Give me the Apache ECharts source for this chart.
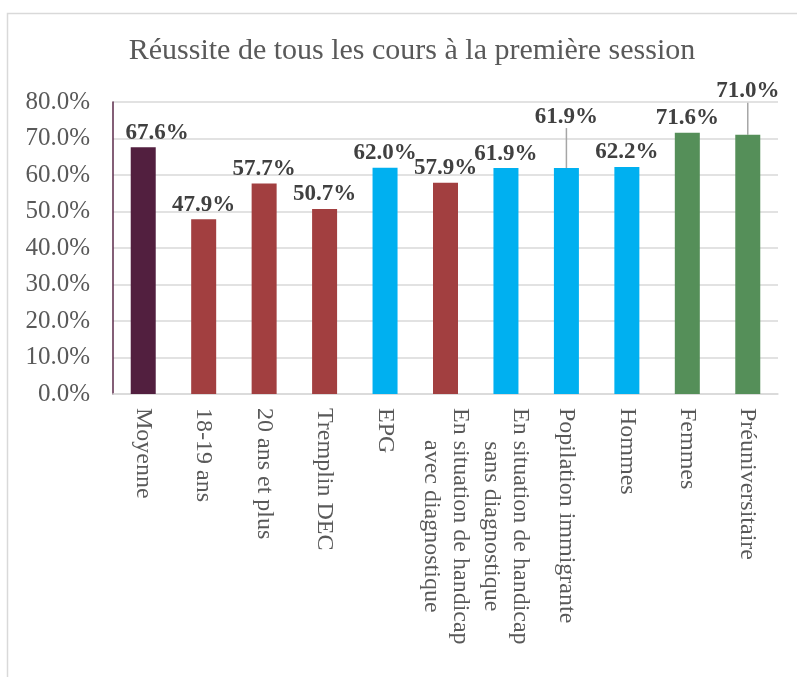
<!DOCTYPE html>
<html>
<head>
<meta charset="utf-8">
<script src="https://cdn.jsdelivr.net/npm/echarts@6/dist/echarts.min.js"></script>
<style>
  html, body { margin: 0; padding: 0; background: #fff; }
  #chart { width: 797px; height: 677px; }
</style>
</head>
<body>
<div id="chart"></div>
<script>
// données du graphique
var categories = [
    'Moyenne',
    '18-19 ans',
    '20 ans et plus',
    'Tremplin DEC',
    'EPG',
    'En situation de handicap\navec diagnostique',
    'En situation de handicap\nsans diagnostique',
    'Popilation immigrante',
    'Hommes',
    'Femmes',
    'Préuniversitaire'
];
var values = [67.6, 47.9, 57.7, 50.7, 62.0, 57.9, 61.9, 61.9, 62.2, 71.6, 71.0];
var groups = ['moy', 'rouge', 'rouge', 'rouge', 'bleu', 'rouge', 'bleu', 'bleu', 'bleu', 'vert', 'vert'];
var yTicks = [0, 10, 20, 30, 40, 50, 60, 70, 80];

var groupColors = {
    moy: '#521F3F',
    rouge: '#A23F40',
    bleu: '#00B0F0',
    vert: '#558F59'
};
// étiquettes déplacées (avec trait de rappel)
var movedLabels = { 0: { dx: 14, dy: 0 }, 7: { dx: 0, dy: -37 }, 10: { dx: 0, dy: -29 } };

var font = 'Liberation Serif';
var chart = echarts.init(document.getElementById('chart'));

var option = {
    backgroundColor: '#fff',
    animation: false,
    graphic: [{
        type: 'rect',
        shape: { x: 7.5, y: 13.5, width: 820, height: 700 },
        style: { fill: 'none', stroke: '#d9d9d9', lineWidth: 1.5 }
    }],
    title: {
        text: 'Réussite de tous les cours à la première session',
        left: 407,
        textAlign: 'center',
        top: 31,
        textStyle: {
            fontFamily: font,
            fontSize: 30,
            fontWeight: 'normal',
            color: '#595959'
        }
    },
    grid: {
        left: 113,
        right: 19,
        top: 102,
        bottom: 283
    },
    xAxis: {
        type: 'category',
        data: categories,
        axisTick: { show: false },
        axisLine: {
            show: true,
            lineStyle: { color: '#d9d9d9', width: 1.5 }
        },
        axisLabel: {
            interval: 0,
            rotate: -90,
            margin: 14,
            fontFamily: font,
            fontSize: 24,
            color: '#595959',
            lineHeight: 29,
            formatter: function (v) {
                return v.split('\n').map(function (l) { return '{c|' + l + '}'; }).join('\n');
            },
            rich: {
                c: {
                    align: 'center',
                    fontFamily: font,
                    fontSize: 24,
                    color: '#595959',
                    lineHeight: 29
                }
            }
        }
    },
    yAxis: {
        type: 'value',
        min: yTicks[0],
        max: yTicks[yTicks.length - 1],
        interval: 10,
        axisLine: {
            show: true,
            lineStyle: { color: '#5B2A4A', width: 1.5 }
        },
        axisTick: { show: false },
        splitLine: {
            lineStyle: { color: '#d9d9d9', width: 1.5 }
        },
        axisLabel: {
            margin: 23,
            fontFamily: font,
            fontSize: 25,
            color: '#595959',
            formatter: function (v) { return v.toFixed(1) + '%'; }
        }
    },
    series: [{
        type: 'bar',
        barWidth: 25,
        data: values.map(function (v, i) {
            var item = {
                value: v,
                itemStyle: { color: groupColors[groups[i]] }
            };
            if (i === 7 || i === 10) {
                item.labelLine = { show: true };
            }
            return item;
        }),
        label: {
            show: true,
            position: 'top',
            distance: 3,
            fontFamily: font,
            fontSize: 23,
            fontWeight: 'bold',
            color: '#404040',
            formatter: function (p) { return p.value.toFixed(1) + '%'; }
        },
        labelLine: {
            show: false,
            lineStyle: { color: '#a6a6a6', width: 1.5 }
        },
        labelLayout: function (p) {
            var m = movedLabels[p.dataIndex];
            if (m) {
                return { dx: m.dx, dy: m.dy };
            }
            return {};
        }
    }]
};

chart.setOption(option);
</script>
</body>
</html>
